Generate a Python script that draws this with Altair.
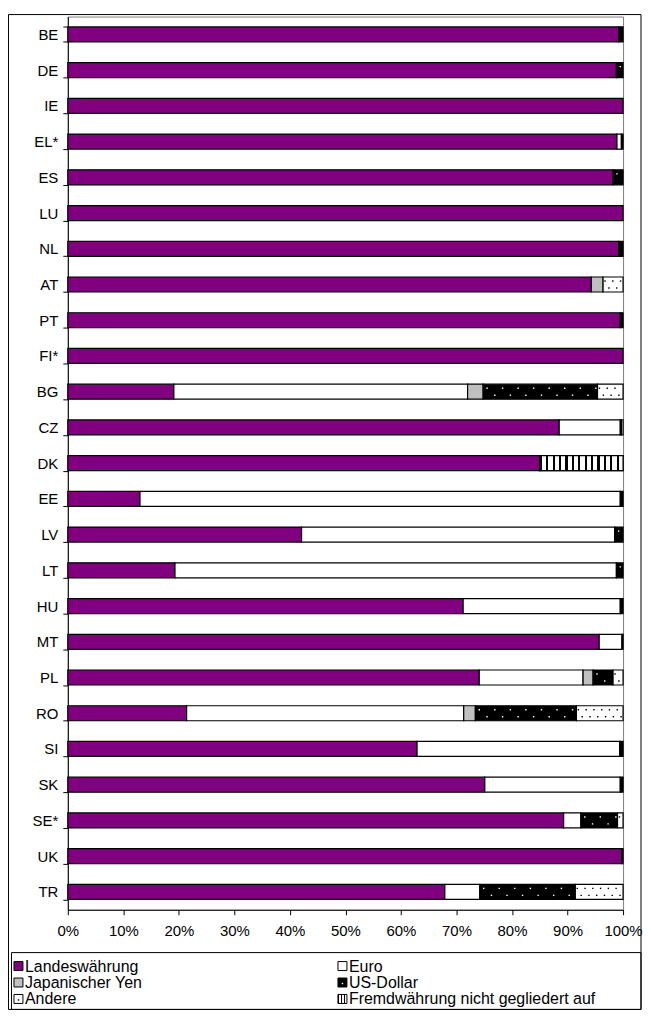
import altair as alt
import pandas as pd

countries = ["BE", "DE", "IE", "EL*", "ES", "LU", "NL", "AT", "PT", "FI*",
             "BG", "CZ", "DK", "EE", "LV", "LT", "HU", "MT", "PL", "RO",
             "SI", "SK", "SE*", "UK", "TR"]
landeswaehrung = [99.2, 98.8, 100.0, 98.9, 98.2, 100.0, 99.2, 94.3, 99.5, 100.0,
                  19.1, 88.5, 85.0, 13.0, 42.1, 19.3, 71.2, 95.7, 74.1, 21.4,
                  62.9, 75.1, 89.3, 99.8, 67.9]
euro = [0, 0, 0, 0.8, 0, 0, 0, 0, 0, 0,
        52.9, 11.0, 0, 86.5, 56.4, 79.5, 28.3, 4.1, 18.7, 49.9,
        36.5, 24.4, 3.1, 0, 6.3]
yen = [0, 0, 0, 0, 0, 0, 0, 2.1, 0, 0,
       2.8, 0, 0, 0, 0, 0, 0, 0, 1.8, 2.1,
       0, 0, 0, 0, 0]
usd = [0.8, 1.2, 0, 0.3, 1.8, 0, 0.8, 0, 0.5, 0,
       20.6, 0.2, 0, 0.5, 1.5, 1.2, 0.5, 0.2, 3.6, 18.2,
       0.6, 0.5, 6.6, 0.2, 17.2]
andere = [0, 0, 0, 0, 0, 0, 0, 3.6, 0, 0,
          4.6, 0.3, 0, 0, 0, 0, 0, 0, 1.8, 8.4,
          0, 0, 1.0, 0, 8.6]
fremd = [0, 0, 0, 0, 0, 0, 0, 0, 0, 0,
         0, 0, 15.0, 0, 0, 0, 0, 0, 0, 0,
         0, 0, 0, 0, 0]

categories = ["Landeswährung", "Euro", "Japanischer Yen", "US-Dollar", "Andere",
              "Fremdwährung nicht gegliedert auf"]
ticks = list(range(0, 101, 10))

colors = ["#800080", "#FFFFFF", "#C0C0C0", "#000000", "#FFFFFF", "#FFFFFF"]
FONT = "Arial, Liberation Sans, sans-serif"
FS_AXIS = 15
FS_LEG = 16

W = 557
H = 896
LEFT = -59.5

series = [landeswaehrung, euro, yen, usd, andere, fremd]
rows = []
for i, c in enumerate(countries):
    s = 0.0
    for k, cat in enumerate(categories):
        v = series[k][i]
        if v > 0:
            rows.append(dict(country=c, cat=cat, order=k, start=s, end=s + v))
        s += v
df = pd.DataFrame(rows)

# pattern textures derived from the segments
dots = []
for r in df.itertuples():
    if r.cat in ("US-Dollar", "Andere"):
        step = 2.8 if r.cat == "US-Dollar" else 1.4
        for row, off in (("a", 0.25), ("b", 0.75)):
            x = r.start + step * off
            while x < r.end - 0.25:
                dots.append(dict(country=r.country, cat=r.cat, row=row, x=x))
                x += step
dots = pd.DataFrame(dots)

def stripes(n, frac_black=0.35):
    st = []
    for j in range(n):
        a = j / n
        b = (j + frac_black) / n
        c = (j + 1) / n
        st += [alt.GradientStop(offset=a, color="black"),
               alt.GradientStop(offset=b, color="black"),
               alt.GradientStop(offset=b, color="white"),
               alt.GradientStop(offset=c, color="white")]
    return alt.LinearGradient(gradient="linear", stops=st, x1=0, x2=1, y1=0, y2=0)

x_axis = alt.Axis(title=None, values=ticks, labelExpr="datum.value + '%'", grid=False,
                  labelFlush=False, labelOverlap=False,
                  domainColor="black", tickColor="black", tickSize=5,
                  labelPadding=9, labelFontSize=FS_AXIS, labelFont=FONT, labelColor="black")
y_axis = alt.Axis(title=None, tickBand="extent", grid=False, domainColor="black",
                  tickColor="black", tickSize=5, labelPadding=5, labelFontSize=FS_AXIS,
                  labelFont=FONT, labelColor="black")
x_scale = alt.Scale(domain=[0, 100], nice=False)
y_scale = alt.Scale(domain=countries, paddingInner=0.58, paddingOuter=0.29)

bars = alt.Chart(df).mark_bar(stroke="black", strokeWidth=1.2).encode(
    x=alt.X("start:Q", scale=x_scale, axis=x_axis),
    x2="end:Q",
    y=alt.Y("country:N", scale=y_scale, axis=y_axis, sort=countries),
    fill=alt.Fill("cat:N", scale=alt.Scale(domain=categories, range=colors), legend=None),
)

striped = alt.Chart(df[df["cat"] == categories[5]]).mark_bar(
    fill=stripes(13), stroke="black", strokeWidth=1.2).encode(
    x=alt.X("start:Q", scale=x_scale, axis=x_axis),
    x2="end:Q",
    y=alt.Y("country:N", scale=y_scale, axis=y_axis, sort=countries),
)

dot_layers = []
for cat, col in (("US-Dollar", "white"), ("Andere", "black")):
    for row, yo in (("a", -3.5), ("b", 3.5)):
        sub = dots[(dots["cat"] == cat) & (dots["row"] == row)]
        dot_layers.append(
            alt.Chart(sub).mark_square(size=2, color=col, opacity=1, yOffset=yo).encode(
                x=alt.X("x:Q", scale=x_scale, axis=x_axis),
                y=alt.Y("country:N", scale=y_scale, axis=y_axis, sort=countries),
            )
        )

one = pd.DataFrame({"a": [0]})

FR_TOP, FR_BOT = -2, H + 100
FR_RIGHT = W + 18
frame = alt.Chart(one).mark_rect(fill=None, stroke="black", strokeWidth=1).encode(
    x=alt.value(LEFT), x2=alt.value(FR_RIGHT), y=alt.value(FR_TOP), y2=alt.value(FR_BOT))
LB_TOP = H + 43
legend_box = alt.Chart(one).mark_rect(fill=None, stroke="black", strokeWidth=1).encode(
    x=alt.value(LEFT + 3), x2=alt.value(FR_RIGHT), y=alt.value(LB_TOP), y2=alt.value(FR_BOT))

legend_layers = []
col_x = [-54, 271]
row_y = [LB_TOP + 13.5, LB_TOP + 30, LB_TOP + 46.5]
for i, cat in enumerate(categories):
    sx = col_x[i % 2]
    cy = row_y[i // 2]
    fill = stripes(3, 0.45) if i == 5 else colors[i]
    legend_layers.append(alt.Chart(one).mark_rect(fill=fill, stroke="black", strokeWidth=1).encode(
        x=alt.value(sx), x2=alt.value(sx + 9), y=alt.value(cy - 4.5), y2=alt.value(cy + 4.5)))
    if cat in ("US-Dollar", "Andere"):
        legend_layers.append(alt.Chart(one).mark_square(
            size=2, color=("white" if cat == "US-Dollar" else "black"), opacity=1).encode(
            x=alt.value(sx + 4.5), y=alt.value(cy + 1)))
    legend_layers.append(alt.Chart(one).mark_text(
        align="left", baseline="middle", font=FONT, fontSize=FS_LEG, color="black").encode(
        x=alt.value(sx + 11), y=alt.value(cy + 0.5), text=alt.value(cat)))

chart = alt.layer(bars, striped, *dot_layers, frame, legend_box, *legend_layers).properties(
    width=W, height=H, padding=0
).configure_view(stroke="#808080", strokeWidth=1)

chart.save("out.html", embed_options={"renderer": "svg", "actions": False})
